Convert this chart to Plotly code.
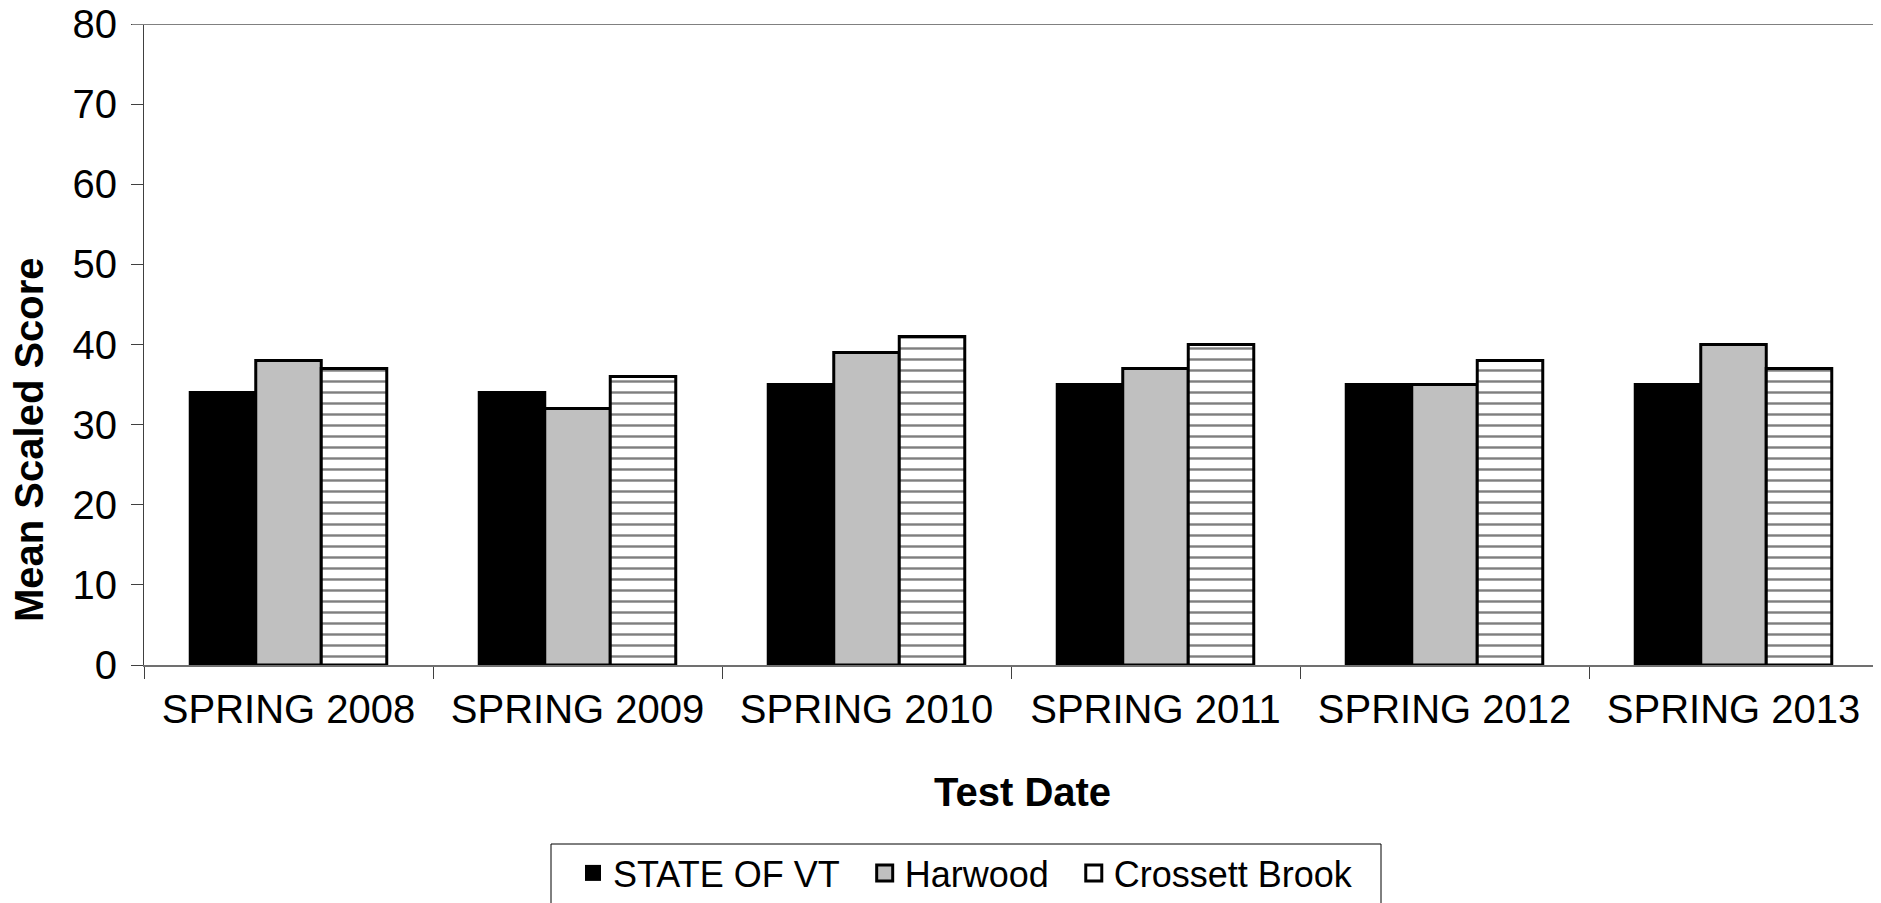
import plotly.graph_objects as go

categories = ["SPRING 2008", "SPRING 2009", "SPRING 2010", "SPRING 2011", "SPRING 2012", "SPRING 2013"]
state_vt = [34, 34, 35, 35, 35, 35]
harwood = [38, 32, 39, 37, 35, 40]
crossett = [37, 36, 41, 40, 38, 37]
y_ticks = [0, 10, 20, 30, 40, 50, 60, 70, 80]
series_names = ["STATE OF VT", "Harwood", "Crossett Brook"]
series_colors = ["#000000", "#C0C0C0", "#FFFFFF"]

FONT = "Liberation Sans, Arial, sans-serif"
NB = "\u00a0"

# page is 1881x903; the html body adds an 8px margin at top/left
OFF = 8
W, H = 1881 - OFF, 903 - OFF
# plot area in page pixels: x 144..1878, y 24..665
L, R, T = 144 - OFF, (1881 - 1878), 24 - OFF
B = H - (665 - OFF)
PW, PH = W - L - R, H - T - B


def px_x(x):
    return (x - OFF - L) / PW


def px_y(y):
    return (H - B - (y - OFF)) / PH


patterns = [None, None, dict(shape="-", fgcolor="#000000", bgcolor="#FFFFFF",
                             size=11, solidity=0.22, fillmode="overlay")]
values = [state_vt, harwood, crossett]

fig = go.Figure()
for name, color, vals, pat in zip(series_names, series_colors, values, patterns):
    marker = dict(color=color, line=dict(color="#000000", width=3))
    if pat:
        marker["pattern"] = pat
    fig.add_trace(go.Bar(name=name, x=categories, y=vals, marker=marker,
                         legendgroup=name, showlegend=False))

# legend entries (larger square keys, as in the original chart)
legend_labels = [series_names[0] + NB * 2, series_names[1] + NB * 2, series_names[2]]
for name, label, color in zip(series_names, legend_labels, series_colors):
    fig.add_trace(go.Scatter(
        x=[None], y=[None], mode="markers", name=label, legendgroup=name,
        marker=dict(symbol="square", size=19, color=color,
                    line=dict(color="#000000", width=3 if color != "#000000" else 0)),
        showlegend=True, hoverinfo="skip",
    ))

fig.update_layout(
    width=W, height=H,
    margin=dict(l=L, r=R, t=T, b=B, pad=0, autoexpand=False),
    paper_bgcolor="white", plot_bgcolor="white",
    barmode="group", bargap=0.32, bargroupgap=0,
    font=dict(family=FONT, size=40, color="#000000"),
    showlegend=True,
    legend=dict(
        orientation="h", x=px_x(573), xanchor="left", y=px_y(843), yanchor="top",
        font=dict(family=FONT, size=36, color="#000000"),
        borderwidth=0, bgcolor="rgba(0,0,0,0)",
        traceorder="normal", itemsizing="trace",
    ),
    xaxis=dict(
        showline=True, linecolor="#707070", linewidth=2,
        ticks="outside", tickson="boundaries", ticklen=12, tickcolor="#404040", tickwidth=1,
        showgrid=False, zeroline=False, automargin=False,
        tickfont=dict(size=40),
        ticklabelstandoff=8,
    ),
    yaxis=dict(
        range=[0, 80], tickvals=y_ticks, ticktext=[str(v) for v in y_ticks],
        showline=True, linecolor="#404040", linewidth=1,
        ticks="outside", ticklen=12, tickcolor="#404040", tickwidth=1,
        showgrid=False, zeroline=False, automargin=False,
        tickfont=dict(size=40),
        ticklabelstandoff=6, ticklabeloverflow="allow",
    ),
    shapes=[
        dict(type="line", xref="paper", yref="y",
             x0=px_x(132), x1=px_x(1881), y0=80, y1=80,
             line=dict(color="#808080", width=2)),
        dict(type="rect", xref="paper", yref="paper",
             x0=px_x(551), x1=px_x(1381), y0=px_y(844), y1=px_y(915),
             line=dict(color="#000000", width=1), fillcolor="rgba(0,0,0,0)"),
    ],
    annotations=[
        dict(text="<b>Mean Scaled Score</b>", xref="paper", yref="paper",
             x=px_x(29), y=px_y(440), xanchor="center", yanchor="middle",
             textangle=-90, showarrow=False, font=dict(size=40)),
        dict(text="<b>Test Date</b>", xref="paper", yref="paper",
             x=px_x(1022), y=px_y(792), xanchor="center", yanchor="middle",
             showarrow=False, font=dict(size=40)),
    ],
)

fig.write_html("out.html")
